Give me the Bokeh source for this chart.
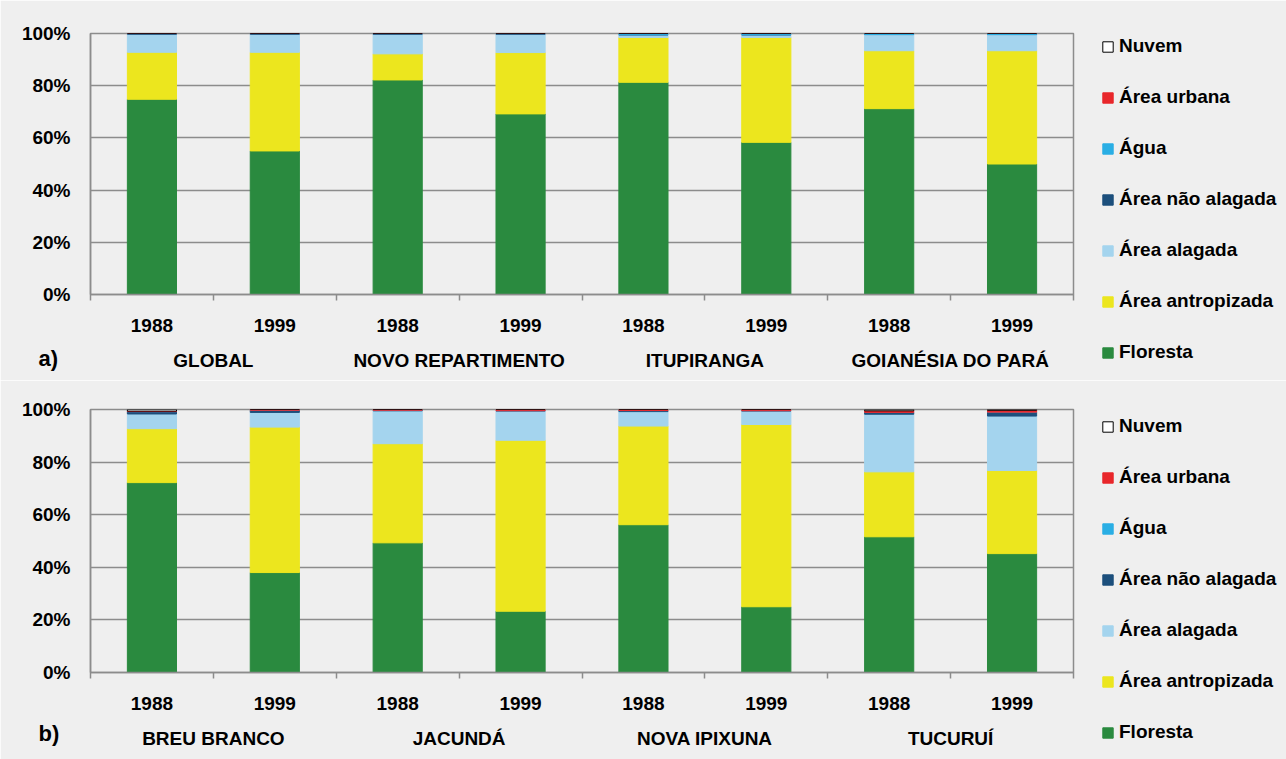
from bokeh.plotting import figure
from bokeh.models import (ColumnDataSource, Range1d, LinearAxis,
                          FixedTicker, PrintfTickFormatter, Legend, LegendItem, Label)
from bokeh.layouts import column
from bokeh.embed import file_html
from bokeh.resources import INLINE

years = ["1988", "1999"]
classes = ["Floresta", "Área antropizada", "Área alagada", "Área não alagada", "Água", "Área urbana", "Nuvem"]
colors = ["#2a8a3f", "#ece61e", "#a4d4ee", "#1c4f7c", "#2aaee4", "#e8272b", "#ffffff"]

# Panel a
groups_a = ["GLOBAL", "NOVO REPARTIMENTO", "ITUPIRANGA", "GOIANÉSIA DO PARÁ"]
floresta_a = [74.8, 55.0, 82.2, 69.2, 81.3, 58.3, 71.2, 50.0]
antropizada_a = [18.0, 37.8, 10.0, 23.5, 17.2, 40.2, 22.2, 43.4]
alagada_a = [6.9, 6.9, 7.5, 7.0, 1.0, 1.0, 6.2, 6.2]
nao_alagada_a = [0.3, 0.3, 0.3, 0.3, 0.0, 0.0, 0.0, 0.0]
agua_a = [0.0, 0.0, 0.0, 0.0, 0.5, 0.5, 0.4, 0.4]
urbana_a = [0.0, 0.0, 0.0, 0.0, 0.0, 0.0, 0.0, 0.0]
nuvem_a = [0.0, 0.0, 0.0, 0.0, 0.0, 0.0, 0.0, 0.0]

# Panel b
groups_b = ["BREU BRANCO", "JACUNDÁ", "NOVA IPIXUNA", "TUCURUÍ"]
floresta_b = [72.2, 38.0, 49.3, 23.3, 56.2, 25.0, 51.6, 45.2]
antropizada_b = [20.5, 55.3, 37.7, 65.0, 37.5, 69.3, 24.7, 31.6]
alagada_b = [5.6, 5.6, 12.5, 11.2, 5.5, 5.2, 21.9, 20.7]
nao_alagada_b = [0.9, 0.8, 0.2, 0.0, 0.4, 0.0, 0.7, 1.5]
agua_b = [0.0, 0.0, 0.0, 0.0, 0.0, 0.0, 0.0, 0.0]
urbana_b = [0.2, 0.3, 0.3, 0.5, 0.4, 0.5, 0.6, 0.7]
nuvem_b = [0.6, 0.0, 0.0, 0.0, 0.0, 0.0, 0.5, 0.3]

y_ticks = [0, 20, 40, 60, 80, 100]

FONT = "Liberation Sans"
BG = "#efefef"
GRID = "#8c8c8c"


def label_axis(ticks, overrides, standoff, size):
    ax = LinearAxis(ticker=FixedTicker(ticks=ticks), major_label_overrides=overrides)
    ax.axis_line_color = None
    ax.major_tick_line_color = None
    ax.minor_tick_line_color = None
    ax.major_tick_out = 0
    ax.major_tick_in = 0
    ax.minor_tick_out = 0
    ax.minor_tick_in = 0
    ax.major_label_standoff = standoff
    ax.major_label_text_font = FONT
    ax.major_label_text_font_size = size
    ax.major_label_text_font_style = "bold"
    ax.major_label_text_color = "#000000"
    return ax


def make_panel(groups, series, tag, top, fh, bottom, leg_vy, tag_y):
    factors = [(g, y) for g in groups for y in years]
    n = len(factors)
    xs = [i + 0.5 for i in range(n)]
    data = {"x": xs}
    for name, vals in zip(classes, series):
        data[name] = vals
    src = ColumnDataSource(data)

    p = figure(x_range=Range1d(0, n), y_range=Range1d(0, 100), frame_width=983, frame_height=fh,
               min_border_left=90, min_border_right=205, min_border_top=top, min_border_bottom=bottom,
               x_axis_location=None, y_axis_location=None,
               output_backend="svg", toolbar_location=None)
    p.background_fill_color = BG
    p.border_fill_color = BG
    p.outline_line_color = GRID
    p.outline_line_width = 1.5
    p.xgrid.visible = False
    p.ygrid.ticker = FixedTicker(ticks=y_ticks)
    p.ygrid.grid_line_color = GRID
    p.ygrid.grid_line_width = 1.5

    line_colors = [c if c != "#ffffff" else "#000000" for c in colors]
    rs = p.vbar_stack(classes, x="x", width=0.4, source=src, color=colors,
                      line_color=line_colors, line_width=1)

    # y axis
    ya = LinearAxis(ticker=FixedTicker(ticks=y_ticks), formatter=PrintfTickFormatter(format="%d%%"))
    ya.axis_line_color = GRID
    ya.axis_line_width = 1.5
    ya.major_tick_out = 0
    ya.major_tick_in = 0
    ya.minor_tick_out = 0
    ya.minor_tick_in = 0
    ya.major_label_standoff = 20
    ya.major_label_text_font = FONT
    ya.major_label_text_font_size = "19px"
    ya.major_label_text_font_style = "bold"
    ya.major_label_text_color = "#000000"
    p.add_layout(ya, "left")

    # tick-only axis at category boundaries (no labels)
    bounds = list(range(n + 1))
    ta = LinearAxis(ticker=FixedTicker(ticks=bounds), major_label_overrides={b: "" for b in bounds})
    ta.axis_line_color = GRID
    ta.axis_line_width = 1.5
    ta.major_tick_line_color = GRID
    ta.major_tick_line_width = 1.5
    ta.major_tick_out = 6
    ta.major_tick_in = 0
    ta.minor_tick_out = 0
    ta.minor_tick_in = 0
    ta.major_label_text_font_size = "0px"
    ta.major_label_text_color = None
    ta.major_label_standoff = 0
    p.add_layout(ta, "below")

    year_over = {x: f[1] for x, f in zip(xs, factors)}
    p.add_layout(label_axis(xs, year_over, 18, "19px"), "below")

    grp_ticks = [2 * i + 1 for i in range(len(groups))]
    grp_over = {t: g for t, g in zip(grp_ticks, groups)}
    p.add_layout(label_axis(grp_ticks, grp_over, 15, "19px"), "below")

    items = [LegendItem(label=c, renderers=[r]) for c, r in zip(classes, rs)][::-1]
    leg = Legend(items=items, location=(28, leg_vy), orientation="vertical")
    leg.background_fill_alpha = 0
    leg.border_line_alpha = 0
    leg.padding = 0
    leg.margin = 0
    leg.spacing = 29
    leg.glyph_width = 13
    leg.glyph_height = 13
    leg.label_height = 16
    leg.label_standoff = 5
    leg.label_text_font = FONT
    leg.label_text_font_size = "19px"
    leg.label_text_font_style = "bold"
    leg.label_text_color = "#000000"
    leg.label_text_baseline = "middle"
    p.add_layout(leg, "right")

    p.add_layout(Label(x=-52, y=tag_y, x_units="screen", y_units="screen", text=tag,
                       text_font=FONT, text_font_size="22px", text_font_style="bold",
                       text_baseline="middle", text_color="#000000"), "above")
    return p


pa = make_panel(groups_a, [floresta_a, antropizada_a, alagada_a, nao_alagada_a, agua_a, urbana_a, nuvem_a],
                "a)", 33, 261, 86, -69, -325)
pb = make_panel(groups_b, [floresta_b, antropizada_b, alagada_b, nao_alagada_b, agua_b, urbana_b, nuvem_b],
                "b)", 29, 263, 87, -71, -324)

layout = column(pa, pb, spacing=0)
open("out.html", "w").write(file_html(layout, INLINE))
